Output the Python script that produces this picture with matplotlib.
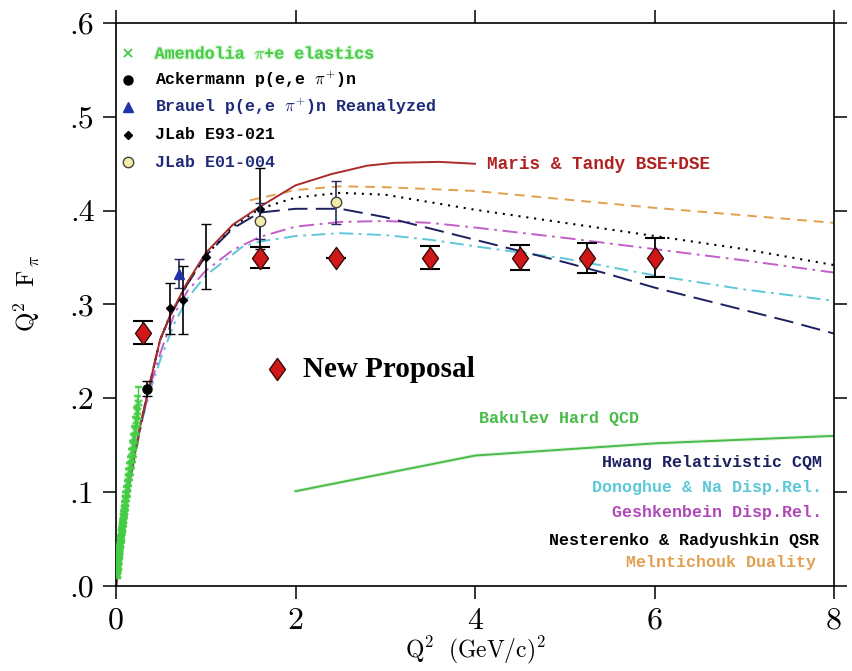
import numpy as np
import matplotlib.pyplot as plt
from matplotlib.path import Path
import matplotlib.patheffects as pe

plt.rcParams['mathtext.fontset'] = 'cm'
plt.rcParams['lines.scale_dashes'] = False

# ---- data: Q^2 (GeV/c)^2 , Q^2 F_pi ----
# Amendolia pi+e elastic
am_q = [0.015, 0.019, 0.023, 0.027, 0.031, 0.035, 0.039, 0.043, 0.047, 0.052,
        0.057, 0.062, 0.067, 0.072, 0.078, 0.084, 0.090, 0.096, 0.103, 0.110,
        0.117, 0.125, 0.133, 0.142, 0.151, 0.160, 0.170, 0.180, 0.190, 0.200,
        0.212, 0.225, 0.237, 0.250]
am_y = [0.012, 0.017, 0.021, 0.026, 0.029, 0.033, 0.037, 0.040, 0.044, 0.048,
        0.052, 0.057, 0.061, 0.065, 0.070, 0.074, 0.079, 0.083, 0.088, 0.093,
        0.098, 0.104, 0.110, 0.116, 0.122, 0.128, 0.136, 0.143, 0.150, 0.158,
        0.166, 0.176, 0.186, 0.195]
am_e = [0.004, 0.004, 0.004, 0.004, 0.004, 0.004, 0.004, 0.004, 0.005, 0.005,
        0.005, 0.005, 0.005, 0.005, 0.006, 0.006, 0.006, 0.006, 0.007, 0.007,
        0.007, 0.008, 0.008, 0.009, 0.009, 0.010, 0.010, 0.011, 0.012, 0.013,
        0.014, 0.015, 0.016, 0.017]

# Ackermann
ack_q = [0.35]
ack_y = [0.210]
ack_e = [0.008]

# Brauel (reanalyzed)
br_q = [0.70]
br_y = [0.333]
br_e = [0.015]

# JLab E93-021
e93_q = [0.60, 0.75, 1.00, 1.60]
e93_y = [0.296, 0.305, 0.351, 0.402]
e93_e = [0.027, 0.036, 0.035, 0.043]

# JLab E01-004
e01_q = [1.60, 2.45]
e01_y = [0.389, 0.409]
e01_e = [0.019, 0.023]

# New proposal projections
np_q = [0.30, 1.60, 2.45, 3.50, 4.50, 5.25, 6.00]
np_y = [0.270, 0.350, 0.350, 0.350, 0.350, 0.350, 0.350]
np_e = [0.012, 0.011, 0.0, 0.012, 0.013, 0.016, 0.021]

# model curves
maris_q = [0.0, 0.02, 0.05, 0.10, 0.15, 0.20, 0.26, 0.36, 0.49, 0.60, 0.79, 1.00,
           1.30, 1.60, 2.00, 2.40, 2.80, 3.10, 3.60, 4.00]
maris_y = [0.0, 0.020, 0.045, 0.085, 0.112, 0.137, 0.166, 0.209, 0.262, 0.288, 0.323, 0.355,
           0.385, 0.404, 0.427, 0.439, 0.448, 0.451, 0.452, 0.450]

meln_q = [1.49, 2.00, 2.50, 3.00, 4.00, 5.00, 6.00, 7.00, 8.00]
meln_y = [0.411, 0.422, 0.426, 0.425, 0.421, 0.412, 0.403, 0.395, 0.387]

nest_q = [0.0, 0.02, 0.05, 0.10, 0.15, 0.20, 0.26, 0.36, 0.49, 0.60, 0.79, 1.00,
          1.30, 1.60, 2.00, 2.50, 3.00, 3.50, 4.00, 5.00, 6.00, 7.00, 8.00]
nest_y = [0.0, 0.020, 0.045, 0.085, 0.112, 0.137, 0.166, 0.209, 0.262, 0.288, 0.322, 0.352,
          0.383, 0.402, 0.414, 0.419, 0.417, 0.409, 0.401, 0.387, 0.373, 0.359, 0.342]

hwang_q = [0.0, 0.02, 0.05, 0.10, 0.15, 0.20, 0.26, 0.36, 0.49, 0.60, 0.79, 1.00,
           1.30, 1.60, 2.00, 2.50, 3.00, 3.50, 4.00, 4.50, 5.00, 5.50, 6.00,
           6.50, 7.00, 7.50, 8.00]
hwang_y = [0.0, 0.020, 0.045, 0.085, 0.112, 0.137, 0.166, 0.209, 0.262, 0.287, 0.321, 0.352,
           0.381, 0.398, 0.402, 0.402, 0.393, 0.381, 0.369, 0.357, 0.345, 0.332, 0.318,
           0.306, 0.294, 0.282, 0.269]

gesh_q = [0.0, 0.02, 0.05, 0.10, 0.20, 0.30, 0.40, 0.50, 0.65, 0.80, 1.00, 1.30,
          1.60, 2.00, 2.50, 3.00, 3.50, 4.00, 5.00, 6.00, 7.00, 8.00]
gesh_y = [0.0, 0.019, 0.043, 0.081, 0.135, 0.182, 0.219, 0.250, 0.290, 0.315, 0.336, 0.358,
          0.372, 0.383, 0.388, 0.389, 0.387, 0.382, 0.371, 0.359, 0.347, 0.334]

dono_q = [0.0, 0.02, 0.05, 0.10, 0.20, 0.30, 0.40, 0.50, 0.65, 0.80, 1.00, 1.40,
          1.60, 2.00, 2.50, 3.00, 3.50, 4.00, 5.00, 6.00, 7.00, 8.00]
dono_y = [0.0, 0.019, 0.043, 0.080, 0.133, 0.180, 0.214, 0.243, 0.280, 0.307, 0.331, 0.361,
          0.367, 0.373, 0.376, 0.374, 0.369, 0.362, 0.349, 0.331, 0.316, 0.304]

bak_q = [2.0, 4.0, 6.0, 8.0]
bak_y = [0.101, 0.139, 0.152, 0.160]

xticks = [0, 2, 4, 6, 8]
yticks = [0.0, 0.1, 0.2, 0.3, 0.4, 0.5, 0.6]
ytick_labels = ['.0', '.1', '.2', '.3', '.4', '.5', '.6']

# colours
c_maris = '#a82c2c'
c_meln = '#e0a050'
c_hwang = '#1c2060'
c_gesh = '#c25ec8'
c_dono = '#5cc8d8'
c_bak = '#48bb48'
c_am = '#44cc44'
c_navy = '#1f2a78'
c_red = '#d01818'

# tall diamond used for the projected points
diamond = Path([(0, 1), (0.72, 0), (0, -1), (-0.72, 0), (0, 1)],
               [Path.MOVETO, Path.LINETO, Path.LINETO, Path.LINETO, Path.CLOSEPOLY])

fig = plt.figure(figsize=(8.52, 6.71), dpi=100)
ax = fig.add_axes([0.1362, 0.1267, 0.8428, 0.839])

# theory curves
ax.plot(dono_q, dono_y, color=c_dono, lw=1.4, dashes=(10, 4, 2, 4))
ax.plot(gesh_q, gesh_y, color=c_gesh, lw=1.4, dashes=(11, 4, 2, 4))
ax.plot(hwang_q, hwang_y, color=c_hwang, lw=1.4, dashes=(14, 6))
ax.plot(nest_q, nest_y, color='black', lw=1.5, dashes=(1.5, 4.2))
ax.plot(meln_q, meln_y, color=c_meln, lw=1.4, dashes=(7, 5))
ax.plot(maris_q, maris_y, color=c_maris, lw=1.4)
ax.plot(bak_q, bak_y, color=c_bak, lw=1.4,
        path_effects=[pe.Stroke(linewidth=3, foreground=c_bak, alpha=0.15), pe.Normal()])

# data
glow = [pe.Stroke(linewidth=3, foreground=c_am, alpha=0.25), pe.Normal()]
ax.errorbar(am_q, am_y, yerr=am_e, fmt='x', color=c_am, ms=5, mew=1.2,
            elinewidth=1.0, capsize=2.5, zorder=4)
for ln in ax.lines[-3:]:
    ln.set_path_effects(glow)
ax.errorbar(ack_q, ack_y, yerr=ack_e, fmt='o', color='black', ms=6.5,
            elinewidth=1.2, capsize=3.5, zorder=5)
ax.errorbar(br_q, br_y, yerr=br_e, fmt='^', color='#2233aa', ms=7.5,
            ecolor='#2a2a60', elinewidth=1.2, capsize=3.5, zorder=5)
ax.errorbar(e93_q, e93_y, yerr=e93_e, fmt='D', color='black', ms=4.5,
            elinewidth=1.2, capsize=3.8, zorder=5)
ax.errorbar(e01_q, e01_y, yerr=e01_e, fmt='o', mfc='#f2eca8', mec='#444444', ms=7.5,
            ecolor='#2a2a60', elinewidth=1.2, capsize=3.8, zorder=6)
ax.errorbar(np_q, np_y, yerr=np_e, fmt='none', ecolor='black', elinewidth=1.3,
            capsize=7, capthick=1.5, zorder=6)
ax.plot(np_q, np_y, ls='none', marker=diamond, ms=16, mfc=c_red, mec='#3a0a0a',
        mew=1.0, zorder=7)

# legend block, upper left
mono = dict(family='Liberation Mono', weight='bold', fontsize=12, va='center')
leg_x_sym, leg_x_txt = 0.134, 0.43
ax.plot(leg_x_sym, 0.568, 'x', color=c_am, ms=6, mew=1.3)
ax.text(leg_x_txt, 0.567, r'Amendolia $\pi$+e elastics', color=c_am,
        path_effects=[pe.Stroke(linewidth=2, foreground=c_am, alpha=0.2), pe.Normal()], **mono)
ax.plot(leg_x_sym, 0.539, 'o', color='black', ms=6.5)
ax.text(leg_x_txt, 0.540, r'Ackermann p(e,e $\pi^{+}$)n', color='black', **mono)
ax.plot(leg_x_sym, 0.510, '^', color='#2233aa', ms=7.5)
ax.text(leg_x_txt, 0.511, r'Brauel p(e,e $\pi^{+}$)n Reanalyzed', color=c_navy, **mono)
ax.plot(leg_x_sym, 0.481, 'D', color='black', ms=4.5)
ax.text(leg_x_txt, 0.481, 'JLab E93-021', color='black', **mono)
ax.plot(leg_x_sym, 0.452, 'o', mfc='#f2eca8', mec='#444444', ms=7.5)
ax.text(leg_x_txt, 0.451, 'JLab E01-004', color=c_navy, **mono)

# curve labels
ax.text(4.13, 0.449, 'Maris & Tandy BSE+DSE', color='#b02222', **dict(mono, fontsize=12.8))
ax.text(4.04, 0.178, 'Bakulev Hard QCD', color=c_bak, **mono)
ax.text(7.86, 0.132, 'Hwang Relativistic CQM', color=c_hwang, ha='right', **mono)
ax.text(7.86, 0.1045, 'Donoghue & Na Disp.Rel.', color=c_dono, ha='right', **mono)
ax.text(7.86, 0.078, 'Geshkenbein Disp.Rel.', color='#b048b8', ha='right', **mono)
ax.text(7.83, 0.049, 'Nesterenko & Radyushkin QSR', color='black', ha='right', **mono)
ax.text(7.80, 0.0245, 'Melntichouk Duality', color=c_meln, ha='right', **mono)

ax.plot(1.79, 0.231, ls='none', marker=diamond, ms=16, mfc=c_red, mec='#3a0a0a', mew=1.0)
ax.text(2.08, 0.231, 'New Proposal', family='Liberation Serif', weight='bold',
        fontsize=21, va='center')

# axes styling
ax.set_xlim(0, 8)
ax.set_ylim(0, 0.6)
ax.set_xticks(xticks)
ax.set_xticklabels([str(t) for t in xticks], fontfamily='cmr10')
ax.set_yticks(yticks)
ax.set_yticklabels(ytick_labels, fontfamily='cmr10')
ax.tick_params(direction='out', length=9.5, width=1.1, labelsize=23, pad=6,
               top=True, right=True, labeltop=False, labelright=False)
for sp in ax.spines.values():
    sp.set_linewidth(1.2)
ax.set_xlabel(r'$\mathrm{Q^2\ \ (GeV/c)^2}$', fontsize=17, va='center')
ax.xaxis.set_label_coords(0.5, -0.114)
ax.set_ylabel(r'$\mathrm{Q^2\ \ F_{\,\pi}}$', fontsize=18, va='center')
ax.yaxis.set_label_coords(-0.124, 0.52)

fig.savefig('out.png', dpi=100)
